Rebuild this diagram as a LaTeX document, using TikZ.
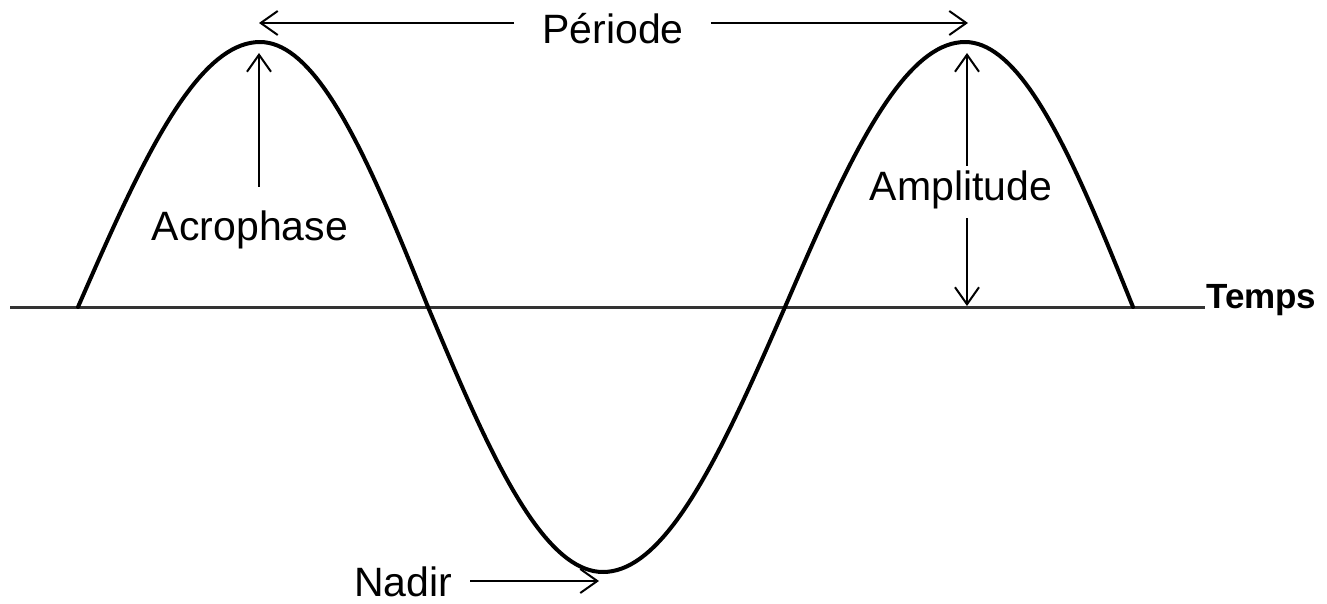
\documentclass[tikz,border=0pt]{standalone}
\usepackage{fontspec}
\setmainfont{Liberation Sans}
\usetikzlibrary{arrows.meta}
\tikzset{
  lbl/.style={inner sep=0pt, font=\fontsize{41}{48}\selectfont},
  tmlbl/.style={inner sep=0pt, font=\fontsize{35}{42}\selectfont\bfseries},
  arr/.style={line width=2pt, -{Straight Barb[length=17pt,width=24pt,line width=2pt]}},
  wave/.style={line width=4pt, line join=round, line cap=round},
  axis/.style={line width=3pt, draw=black!80}
}
\begin{document}
\begin{tikzpicture}[x=1pt,y=-1pt]
\useasboundingbox (0,0) rectangle (1327,604);
% axis
\coordinate (axL) at (10,307);
\coordinate (axR) at (1205,307);
\draw[axis] (axL) -- (axR);
\node[tmlbl, anchor=west] (temps) at (1206,300) {Temps};
% wave, quarter by quarter
\def\A{265}
\draw[wave] plot[domain=0:90, samples=40, variable=\t] ({78+(260-78)*\t/90}, {307-\A*sin(\t)})
  -- plot[domain=0:90, samples=40, variable=\t] ({260+(428-260)*\t/90}, {307-\A*cos(\t)})
  -- plot[domain=0:90, samples=40, variable=\t] ({428+(603-428)*\t/90}, {307+\A*sin(\t)})
  -- plot[domain=0:90, samples=40, variable=\t] ({603+(785-603)*\t/90}, {307+\A*cos(\t)})
  -- plot[domain=0:90, samples=40, variable=\t] ({785+(965-785)*\t/90}, {307-\A*sin(\t)})
  -- plot[domain=0:90, samples=40, variable=\t] ({965+(1133-965)*\t/90}, {307-\A*cos(\t)});
% Periode
\node[lbl] (per) at (613,29) {Période};
\coordinate (perL) at (259,23);
\coordinate (perR) at (968,23);
\draw[arr] (per.west) ++(-28,-6) coordinate (pl) (pl) -- (perL);
\draw[arr] (per.east) ++(27,-6) coordinate (pr) (pr) -- (perR);
% Acrophase
\node[lbl] (acro) at (250,230) {Acrophase};
\coordinate (acroTop) at (259,53);
\coordinate (acroBot) at (259,187);
\draw[arr] (acroBot) -- (acroTop);
% Amplitude
\node[lbl] (ampl) at (961,190) {Amplitude};
\coordinate (amTop) at (967,53);
\coordinate (amBot) at (967,306);
\coordinate (amA) at (967,166);
\coordinate (amB) at (967,218);
\draw[arr] (amA) -- (amTop);
\draw[arr] (amB) -- (amBot);
% Nadir
\node[lbl] (nadir) at (403,582) {Nadir};
\coordinate (nadA) at (470,581);
\coordinate (nadB) at (599,581);
\draw[arr] (nadA) -- (nadB);
\end{tikzpicture}
\end{document}
